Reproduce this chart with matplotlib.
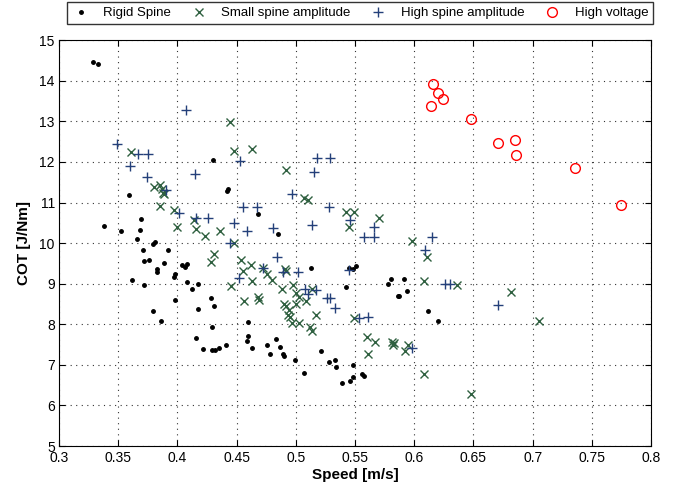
import matplotlib
matplotlib.use("Agg")
from matplotlib import pyplot as plt
import numpy as np

plt.rcParams["font.family"] = ["Liberation Sans", "DejaVu Sans"]

# Rigid spine (black dots)
rigid_speed = [0.329, 0.333, 0.359, 0.338, 0.352, 0.369, 0.368, 0.366, 0.381, 0.379,
               0.371, 0.392, 0.372, 0.376, 0.389, 0.383, 0.383, 0.404, 0.408, 0.406,
               0.443, 0.442, 0.468, 0.430, 0.398, 0.397, 0.362, 0.372, 0.408, 0.417,
               0.412, 0.398, 0.428, 0.431, 0.417, 0.379, 0.386, 0.429, 0.416, 0.422,
               0.429, 0.432, 0.435, 0.441, 0.460, 0.460, 0.459, 0.463, 0.513, 0.545,
               0.548, 0.551, 0.542, 0.580, 0.578, 0.591, 0.594, 0.587, 0.586, 0.612,
               0.483, 0.476, 0.487, 0.478, 0.489, 0.490, 0.499, 0.521, 0.507, 0.528,
               0.533, 0.534, 0.548, 0.548, 0.556, 0.558, 0.546, 0.539, 0.485, 0.620]
rigid_cot = [14.47, 14.41, 11.18, 10.43, 10.30, 10.60, 10.33, 10.11, 10.03, 9.98,
             9.83, 9.82, 9.56, 9.58, 9.51, 9.37, 9.28, 9.47, 9.48, 9.40,
             11.34, 11.28, 10.72, 12.04, 9.25, 9.16, 9.08, 8.97, 9.04, 9.00,
             8.87, 8.60, 8.65, 8.46, 8.37, 8.32, 8.08, 7.94, 7.67, 7.40,
             7.37, 7.36, 7.41, 7.50, 8.05, 7.70, 7.59, 7.42, 9.38, 9.39,
             9.36, 9.44, 8.92, 9.11, 8.98, 9.12, 8.83, 8.70, 8.69, 8.33,
             7.64, 7.49, 7.45, 7.27, 7.27, 7.21, 7.13, 7.34, 6.81, 7.06,
             7.13, 6.95, 6.99, 6.71, 6.77, 6.73, 6.60, 6.55, 10.23, 8.08]

# Small spine amplitude (green x)
small_speed = [0.361, 0.380, 0.385, 0.387, 0.388, 0.389, 0.385, 0.397, 0.400, 0.414,
               0.416, 0.423, 0.436, 0.448, 0.431, 0.428, 0.454, 0.462, 0.444, 0.448,
               0.463, 0.492, 0.507, 0.510, 0.542, 0.549, 0.545, 0.570, 0.598, 0.611,
               0.472, 0.491, 0.608, 0.476, 0.480, 0.488, 0.463, 0.492, 0.498, 0.514,
               0.468, 0.469, 0.500, 0.503, 0.509, 0.490, 0.492, 0.494, 0.493, 0.495,
               0.517, 0.497, 0.503, 0.512, 0.514, 0.549, 0.560, 0.567, 0.561, 0.581,
               0.583, 0.582, 0.595, 0.592, 0.608, 0.636, 0.682, 0.705, 0.648, 0.455,
               0.445, 0.456, 0.500]
small_cot = [12.24, 11.38, 11.42, 11.33, 11.24, 11.21, 10.92, 10.81, 10.40, 10.57,
             10.34, 10.17, 10.30, 9.99, 9.73, 9.53, 9.58, 9.45, 12.98, 12.28,
             12.32, 11.80, 11.10, 11.06, 10.76, 10.76, 10.39, 10.62, 10.06, 9.65,
             9.38, 9.36, 9.06, 9.24, 9.09, 8.86, 9.07, 9.31, 8.96, 8.88,
             8.66, 8.60, 8.76, 8.66, 8.57, 8.50, 8.45, 8.35, 8.24, 8.18,
             8.23, 8.02, 8.04, 7.94, 7.83, 8.16, 7.68, 7.56, 7.27, 7.57,
             7.54, 7.49, 7.48, 7.34, 6.77, 8.97, 8.80, 8.09, 6.28, 9.31,
             8.95, 8.57, 8.49]

# High spine amplitude (blue +)
high_speed = [0.407, 0.349, 0.367, 0.375, 0.360, 0.415, 0.374, 0.390, 0.401, 0.416,
              0.426, 0.448, 0.459, 0.444, 0.455, 0.467, 0.453, 0.518, 0.529, 0.515,
              0.497, 0.528, 0.481, 0.514, 0.546, 0.566, 0.558, 0.566, 0.484, 0.615,
              0.609, 0.472, 0.489, 0.502, 0.545, 0.508, 0.517, 0.510, 0.526, 0.529,
              0.533, 0.553, 0.561, 0.626, 0.630, 0.671, 0.598, 0.452]
high_cot = [13.29, 12.43, 12.20, 12.20, 11.91, 11.71, 11.63, 11.31, 10.74, 10.61,
            10.61, 10.49, 10.30, 10.01, 10.89, 10.88, 12.03, 12.09, 12.09, 11.76,
            11.20, 10.90, 10.36, 10.44, 10.57, 10.40, 10.16, 10.15, 9.66, 10.16,
            9.84, 9.38, 9.28, 9.28, 9.33, 8.87, 8.85, 8.74, 8.65, 8.65,
            8.39, 8.15, 8.19, 8.99, 8.99, 8.47, 7.41, 9.15]

# High voltage (red circles)
volt_speed = [0.616, 0.620, 0.624, 0.614, 0.648, 0.671, 0.685, 0.686, 0.736, 0.775]
volt_cot = [13.92, 13.69, 13.55, 13.39, 13.05, 12.46, 12.53, 12.16, 11.84, 10.93]

x_ticks = [0.3, 0.35, 0.4, 0.45, 0.5, 0.55, 0.6, 0.65, 0.7, 0.75, 0.8]
x_labels = ["0.3", "0.35", "0.4", "0.45", "0.5", "0.55", "0.6", "0.65", "0.7", "0.75", "0.8"]
y_ticks = list(range(5, 16))

fig = plt.figure(figsize=(6.83, 4.84), dpi=100)
ax = fig.add_axes([0.0864, 0.0785, 0.8668, 0.8385])

ax.plot(rigid_speed, rigid_cot, ".", color="black", markersize=5, label="Rigid Spine")
ax.plot(small_speed, small_cot, "x", color="#2f6040", markersize=6, markeredgewidth=1.0,
        label="Small spine amplitude")
ax.plot(high_speed, high_cot, "+", color="#24407a", markersize=7.5, markeredgewidth=1.0,
        label="High spine amplitude")
ax.plot(volt_speed, volt_cot, "o", color="red", markerfacecolor="none", markersize=7,
        markeredgewidth=1.0, label="High voltage")

ax.set_xlim(0.3, 0.8)
ax.set_ylim(5, 15)
ax.set_xticks(x_ticks)
ax.set_xticklabels(x_labels)
ax.set_yticks(y_ticks)
ax.tick_params(direction="in", top=True, right=True, labelsize=10, length=4)
ax.tick_params(axis="y", pad=3)
ax.grid(True, linestyle=(0, (1, 4)), color="#333333", linewidth=0.8)

for s in ax.spines.values():
    s.set_linewidth(0.8)

ax.set_xlabel("Speed [m/s]", fontsize=11, fontweight="bold", labelpad=2)
ax.set_ylabel("COT [J/Nm]", fontsize=11, fontweight="bold", labelpad=6)

leg = ax.legend(loc="upper right", bbox_to_anchor=(1.003, 1.093), ncol=4, fontsize=9.5,
                frameon=True, fancybox=False, edgecolor="black", handletextpad=1.0,
                columnspacing=1.4, borderpad=0.35, handlelength=1.4, borderaxespad=0.0)
leg.get_frame().set_linewidth(1.0)

fig.savefig("out.png", dpi=100)
